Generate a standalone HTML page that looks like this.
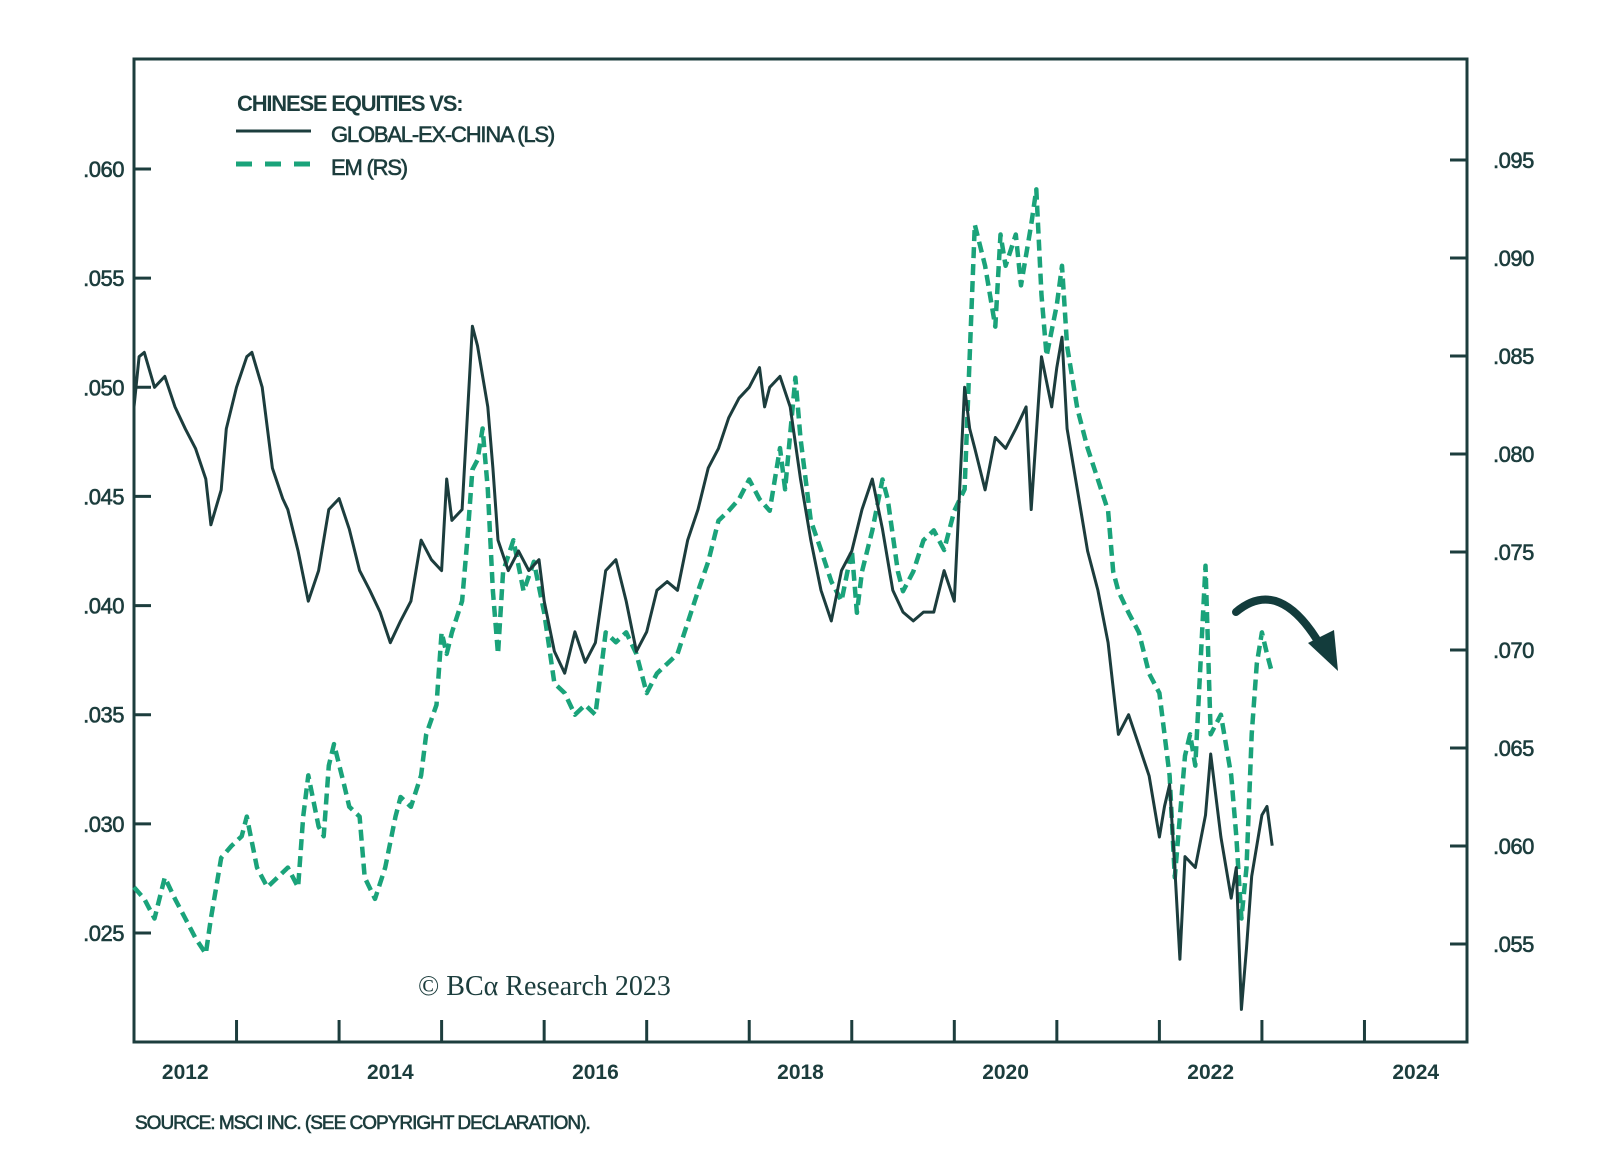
<!DOCTYPE html>
<html><head><meta charset="utf-8">
<style>
html,body{margin:0;padding:0;background:#fff;}
svg{display:block;}
text{font-family:"Liberation Sans",sans-serif;fill:#1c3d3d;}
.thick{stroke:#1c3d3d;stroke-width:0.6px;}
</style></head>
<body>
<svg id="chart" width="1600" height="1160" viewBox="0 0 1600 1160" xmlns="http://www.w3.org/2000/svg">
  <g id="legend">
    <text x="237" y="111" font-size="22" font-weight="bold" letter-spacing="-1.2">CHINESE EQUITIES VS:</text>
    <line x1="236" y1="131" x2="311" y2="131" stroke="#1c3d3d" stroke-width="3"/>
    <text class="thick" x="331" y="142" font-size="22" letter-spacing="-1.2">GLOBAL-EX-CHINA (LS)</text>
    <line x1="236" y1="164" x2="311" y2="164" stroke="#1aa37a" stroke-width="5" stroke-dasharray="16,13"/>
    <text class="thick" x="331" y="175" font-size="22" letter-spacing="-1.2">EM (RS)</text>
  </g>
  <text x="418" y="995" font-size="28" style="font-family:'Liberation Serif',serif">© BCα Research 2023</text>
  <text class="thick" x="135" y="1129" font-size="19" letter-spacing="-1">SOURCE: MSCI INC. (SEE COPYRIGHT DECLARATION).</text>
</svg>
<script>
const blackYears=[2012.0,2012.05,2012.1,2012.2,2012.3,2012.4,2012.5,2012.6,2012.7,2012.75,2012.85,2012.9,2013.0,2013.1,2013.15,2013.25,2013.35,2013.45,2013.5,2013.6,2013.7,2013.8,2013.9,2014.0,2014.1,2014.2,2014.3,2014.4,2014.5,2014.6,2014.7,2014.8,2014.9,2015.0,2015.05,2015.1,2015.2,2015.3,2015.35,2015.45,2015.5,2015.55,2015.65,2015.75,2015.85,2015.95,2016.0,2016.1,2016.2,2016.3,2016.4,2016.5,2016.6,2016.7,2016.8,2016.9,2017.0,2017.1,2017.2,2017.3,2017.4,2017.5,2017.6,2017.7,2017.8,2017.9,2018.0,2018.1,2018.15,2018.2,2018.3,2018.4,2018.5,2018.6,2018.7,2018.8,2018.9,2019.0,2019.1,2019.2,2019.3,2019.4,2019.5,2019.6,2019.7,2019.8,2019.9,2020.0,2020.1,2020.15,2020.2,2020.3,2020.4,2020.5,2020.6,2020.7,2020.75,2020.85,2020.95,2021.0,2021.05,2021.1,2021.2,2021.3,2021.4,2021.5,2021.6,2021.7,2021.8,2021.9,2022.0,2022.05,2022.1,2022.15,2022.2,2022.25,2022.35,2022.45,2022.5,2022.6,2022.7,2022.75,2022.8,2022.85,2022.9,2023.0,2023.05,2023.1];
const blackValues=[49.1,51.4,51.6,50.0,50.5,49.1,48.1,47.2,45.8,43.7,45.3,48.1,50.0,51.4,51.6,50.0,46.3,44.9,44.4,42.5,40.2,41.6,44.4,44.9,43.5,41.6,40.7,39.7,38.3,39.3,40.2,43.0,42.1,41.6,45.8,43.9,44.4,52.8,51.9,49.1,46.3,43.0,41.6,42.5,41.6,42.1,40.2,37.9,36.9,38.8,37.4,38.3,41.6,42.1,40.2,37.9,38.8,40.7,41.1,40.7,43.0,44.4,46.3,47.2,48.6,49.5,50.0,50.9,49.1,50.0,50.5,49.1,45.8,43.0,40.7,39.3,41.6,42.5,44.4,45.8,43.5,40.7,39.7,39.3,39.7,39.7,41.6,40.2,50.0,48.1,47.2,45.3,47.7,47.2,48.1,49.1,44.4,51.4,49.1,50.9,52.3,48.1,45.3,42.5,40.7,38.3,34.1,35.0,33.6,32.2,29.4,30.8,31.8,28.0,23.8,28.5,28.0,30.4,33.2,29.4,26.6,28.0,21.5,24.3,27.6,30.4,30.8,29.0];
const emYears=[2012.0,2012.1,2012.2,2012.3,2012.4,2012.5,2012.6,2012.7,2012.75,2012.85,2012.95,2013.05,2013.1,2013.2,2013.3,2013.4,2013.5,2013.6,2013.65,2013.7,2013.8,2013.85,2013.9,2013.95,2014.05,2014.1,2014.2,2014.25,2014.35,2014.45,2014.55,2014.6,2014.7,2014.8,2014.85,2014.95,2015.0,2015.05,2015.1,2015.2,2015.25,2015.3,2015.35,2015.4,2015.45,2015.5,2015.55,2015.6,2015.7,2015.8,2015.9,2016.0,2016.1,2016.2,2016.3,2016.4,2016.5,2016.6,2016.7,2016.8,2016.9,2017.0,2017.1,2017.2,2017.3,2017.4,2017.5,2017.6,2017.7,2017.8,2017.9,2018.0,2018.1,2018.2,2018.3,2018.35,2018.45,2018.5,2018.6,2018.7,2018.8,2018.9,2019.0,2019.05,2019.1,2019.2,2019.3,2019.35,2019.45,2019.5,2019.6,2019.7,2019.8,2019.9,2020.0,2020.1,2020.15,2020.2,2020.3,2020.4,2020.45,2020.5,2020.6,2020.65,2020.75,2020.8,2020.85,2020.9,2021.0,2021.05,2021.1,2021.2,2021.3,2021.4,2021.5,2021.55,2021.6,2021.7,2021.8,2021.9,2022.0,2022.05,2022.1,2022.15,2022.2,2022.25,2022.3,2022.35,2022.45,2022.5,2022.6,2022.7,2022.75,2022.8,2022.85,2022.9,2022.95,2023.0,2023.05,2023.1];
const emValues=[57.9,57.3,56.3,58.4,57.3,56.3,55.3,54.5,56.3,59.4,60.0,60.5,61.5,58.9,57.9,58.4,58.9,57.9,61.5,63.6,61.0,60.5,64.1,65.2,63.1,62.0,61.5,58.4,57.3,58.9,61.5,62.5,62.0,63.6,65.7,67.2,70.9,69.8,70.9,72.5,75.6,79.2,79.7,81.3,78.2,73.0,69.8,74.0,75.6,73.0,74.5,71.9,68.3,67.8,66.7,67.2,66.7,70.9,70.4,70.9,69.8,67.8,68.8,69.3,69.8,71.4,73.0,74.5,76.6,77.1,77.7,78.7,77.7,77.1,80.3,78.2,83.9,80.8,76.6,75.1,73.5,72.5,75.1,71.9,74.0,76.1,78.7,77.7,74.0,73.0,74.0,75.6,76.1,75.1,77.1,78.2,85.0,91.7,89.6,86.5,91.2,89.6,91.2,88.6,91.7,93.5,88.1,85.0,87.6,89.6,85.5,82.3,80.3,78.7,77.1,74.0,73.0,71.9,70.9,68.8,67.8,65.7,63.6,58.4,61.5,64.6,65.7,64.1,74.3,65.7,66.7,63.6,60.5,56.3,58.9,65.7,69.3,70.9,69.8,68.8];
const leftTicks=[25,30,35,40,45,50,55,60];
const rightTicks=[55,60,65,70,75,80,85,90,95];
const yearTicks=[2013,2014,2015,2016,2017,2018,2019,2020,2021,2022,2023,2024];
const yearLabels=[2012,2014,2016,2018,2020,2022,2024];

const L=134,R=1467,T=59,B=1042;
const x=y=>L+(y-2012)*(R-L)/13;
const yl=v=>169+(60-v)*(933-169)/35;
const yr=v=>160+(95-v)*(944-160)/40;
const NS='http://www.w3.org/2000/svg';
const svg=document.getElementById('chart');
function mk(tag,attrs,parent){const e=document.createElementNS(NS,tag);for(const k in attrs)e.setAttribute(k,attrs[k]);(parent||svg).appendChild(e);return e;}
const fmt=v=>'.0'+String(v).padStart(2,'0');

const axes=mk('g',{});


const frame=mk('rect',{x:L,y:T,width:R-L,height:B-T,fill:'none',stroke:'#1c3d3d','stroke-width':3},axes);


leftTicks.forEach(v=>{
  const t=mk('line',{x1:L,x2:L+17,y1:yl(v),y2:yl(v),stroke:'#1c3d3d','stroke-width':3},axes);
  
  
  const s=mk('text',{x:124,y:yl(v)+8,'font-size':22,'text-anchor':'end','letter-spacing':'-0.5','class':'thick'},axes);
  
  
  s.textContent=fmt(v);
});
rightTicks.forEach(v=>{
  const t=mk('line',{x1:R-17,x2:R,y1:yr(v),y2:yr(v),stroke:'#1c3d3d','stroke-width':3},axes);
  
  
  const s=mk('text',{x:1493,y:yr(v)+8,'font-size':22,'letter-spacing':'-0.5','class':'thick'},axes);
  
  
  s.textContent=fmt(v);
});
yearTicks.forEach(v=>{
  const t=mk('line',{x1:x(v),x2:x(v),y1:B,y2:B-22,stroke:'#1c3d3d','stroke-width':3},axes);
  
  
});
yearLabels.forEach(v=>{
  const s=mk('text',{x:x(v+0.5),y:1079,'font-size':21,'font-weight':'bold','text-anchor':'middle'},axes);
  
  
  s.textContent=v;
});

const dEm=emYears.map((yv,i)=>(i?'L':'M')+x(yv).toFixed(1)+','+yr(emValues[i]).toFixed(1)).join('');
const em=mk('path',{d:dEm,fill:'none',stroke:'#1aa37a','stroke-width':4.5,'stroke-dasharray':'11,6','stroke-linejoin':'round'});


const dBl=blackYears.map((yv,i)=>(i?'L':'M')+x(yv).toFixed(1)+','+yl(blackValues[i]).toFixed(1)).join('');
const bl=mk('path',{d:dBl,fill:'none',stroke:'#1c3d3d','stroke-width':3,'stroke-linejoin':'round'});



const arrow=mk('path',{d:'M1236,612 Q1280,575 1322,648',fill:'none',stroke:'#133c3c','stroke-width':8,'stroke-linecap':'round'});


const head=mk('polygon',{points:'1308,643 1334,630 1338,671',fill:'#133c3c'});


</script>
</body></html>
